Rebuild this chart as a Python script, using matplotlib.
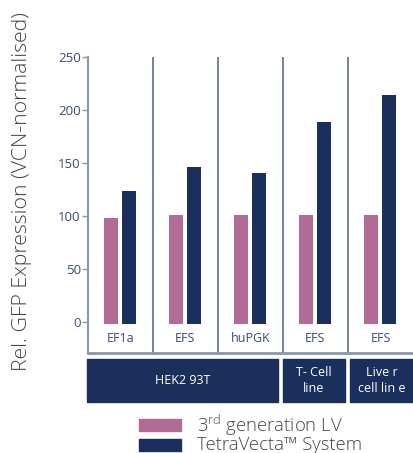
import matplotlib
matplotlib.use("Agg")
import matplotlib.pyplot as plt
from matplotlib.patches import Rectangle

promoters = ["EF1a", "EFS", "huPGK", "EFS", "EFS"]
lv3 = [98, 101, 101, 101, 101]
tetra = [123, 146, 140, 188, 214]
yticks = [0, 50, 100, 150, 200, 250]
cell_lines = ["HEK2 93T", "T- Cell\nline", "Live r\ncell lin e"]
series_names = ["3$^{\\rm rd}$ generation LV", "TetraVecta\u2122 System"]

PINK = "#b16b94"
NAVY = "#1b2f5c"
AX = "#8a96ae"
TXT = "#3a4a78"
plt.rcParams['font.family'] = ['Open Sans', 'DejaVu Sans']
plt.rcParams['mathtext.fontset'] = 'custom'
plt.rcParams['mathtext.rm'] = 'Open Sans:light'

W, H = 413, 453
fig = plt.figure(figsize=(W / 100, H / 100), dpi=100)

def box(l, t, r, b):
    return [l / W, 1 - b / H, (r - l) / W, (b - t) / H]

ax = fig.add_axes(box(87.7, 56.5, 413, 353))
ax.set_xlim(0, 5)
ax.set_ylim(-29.5, 250)
base = -2
bw = 0.215
off = 0.138
for i in range(5):
    c = i + 0.5
    ax.bar(c - off, lv3[i] - base, bottom=base, width=bw, color=PINK)
    ax.bar(c + off, tetra[i] - base, bottom=base, width=bw, color=NAVY)
    ax.text(c, -16, promoters[i], ha="center", va="center", fontsize=9, color=TXT)
for x in [1, 2, 3, 4]:
    ax.axvline(x, color="#5d6b8c", lw=1.2)
ax.axhline(-29.5, color=AX, lw=2, clip_on=False)
for s in ["top", "right", "bottom"]:
    ax.spines[s].set_visible(False)
ax.spines["left"].set_color(AX)
ax.spines["left"].set_linewidth(1.5)
ax.set_xticks([])
ax.set_yticks(yticks)
ax.tick_params(axis="y", colors=AX, length=4, width=1, labelcolor=TXT, labelsize=9.5, pad=1)
ax.set_ylabel("Rel. GFP Expression (VCN-normalised)", fontsize=15.3, color="#444444",
              fontweight="light")
ax.yaxis.set_label_coords(-0.172, 0.545)

ax2 = fig.add_axes(box(87.7, 359.3, 413, 402.3))
ax2.set_xlim(0, 5)
ax2.set_ylim(0, 1)
ax2.axis("off")
gaps = [(-0.006, 2.93), (3.0, 3.955), (4.03, 5.0)]
for (l, r), name in zip(gaps, cell_lines):
    ax2.add_patch(Rectangle((l, 0), r - l, 1, color=NAVY, clip_on=False))
    ax2.text((l + r) / 2, 0.5, name, ha="center", va="center", color="white",
             fontsize=9, linespacing=1.3)

# legend
lx0, lx1 = 139, 181
ly = [(419, 431), (439, 451)]
for (t, b), col, name in zip(ly, [PINK, NAVY], series_names):
    fig.patches.append(Rectangle((lx0 / W, 1 - b / H), (lx1 - lx0) / W, (b - t) / H,
                                 transform=fig.transFigure, color=col))
    fig.text(197 / W, 1 - ((t + b) / 2) / H, name, ha="left", va="center",
             fontsize=13.3, color="#444444", fontweight="light")

fig.savefig("out.png", dpi=100)
